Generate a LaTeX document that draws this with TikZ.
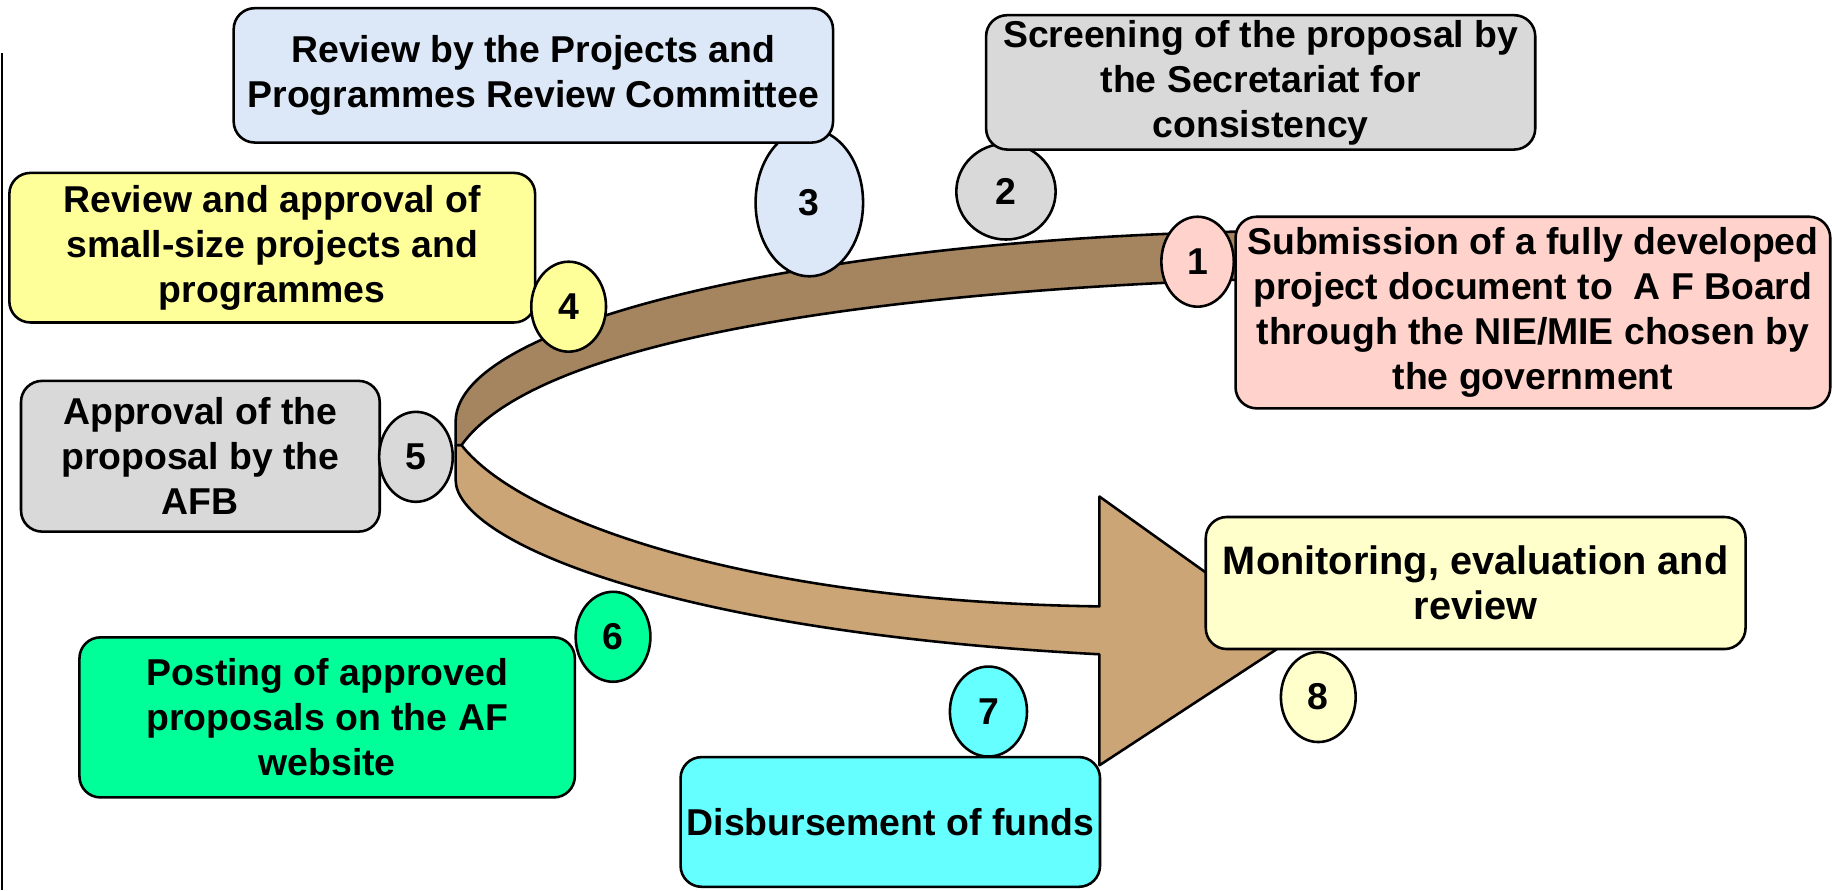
\documentclass[tikz,border=0pt]{standalone}
\usepackage{fontspec}
\setmainfont{Liberation Sans}
\usetikzlibrary{shapes.geometric}
\definecolor{cblue}{HTML}{DCE8F7}
\definecolor{cgrey}{HTML}{D9D9D9}
\definecolor{cyel}{HTML}{FFFF99}
\definecolor{cpink}{HTML}{FFD3CC}
\definecolor{cpale}{HTML}{FFFFCC}
\definecolor{cgreen}{HTML}{00FF99}
\definecolor{ccyan}{HTML}{66FFFF}
\definecolor{bdark}{HTML}{A58560}
\definecolor{blight}{HTML}{CBA575}
\tikzset{
  stepbox/.style={draw=black, line width=2.2pt, rounded corners=18pt, align=center,
    inner sep=0pt, font=\fontsize{32}{38.5}\selectfont\bfseries},
  numell/.style={ellipse, draw=black, line width=2.2pt, inner sep=0pt,
    font=\fontsize{32}{38.5}\selectfont\bfseries},
  band/.style={draw=black, line width=2.2pt, line join=round}
}
\begin{document}
\begin{tikzpicture}[x=1pt,y=-1pt]
\useasboundingbox (0,0) rectangle (1568,762);
\fill[white] (0,0) rectangle (1568,762);
\draw[line width=2pt] (1.6,45.6) -- (1.6,762);
% curved arrow
\draw[band, fill=blight] (390,381) -- (390,411) .. controls (390,460) and (560,540) .. (941,560)
  -- (941,655) -- (1109,545) -- (941,425) -- (941,519)
  .. controls (640,515) and (445,445) .. (395,381) -- cycle;
\draw[band, fill=bdark] (1070,198) .. controls (700,205) and (392,275) .. (390,360)
  -- (390,381) -- (395,381) .. controls (460,290) and (750,250) .. (1070,239) -- cycle;
% numbers behind boxes
\node[numell, fill=cgrey, minimum width=85, minimum height=82] (c2) at (861,164) {2};
\node[numell, fill=cblue, minimum width=92, minimum height=126] (c3) at (692.7,173.5) {3};
% boxes
\node[stepbox, fill=cblue, minimum width=513, minimum height=115] (b3) at (456.5,64.5)
  {Review by the Projects and\\Programmes Review Committee};
\node[stepbox, fill=cgrey, minimum width=470, minimum height=115] (b2) at (1079,70.5)
  {Screening of the proposal by\\the Secretariat for\\consistency};
\node[stepbox, fill=cyel, minimum width=450, minimum height=128] (b4) at (233,212)
  {Review and approval of\\small-size projects and\\programmes};
\node[stepbox, fill=cgrey, minimum width=307, minimum height=129] (b5) at (171.5,390.5)
  {Approval of the\\proposal by the\\AFB};
\node[stepbox, fill=cpink, minimum width=509, minimum height=164] (b1) at (1312,267.5)
  {Submission of a fully developed\\project document to \ A F Board\\through the NIE/MIE chosen by\\the government};
\node[stepbox, fill=cpale, minimum width=462, minimum height=113, font=\fontsize{34}{38.5}\selectfont\bfseries] (b8) at (1263,499)
  {Monitoring, evaluation and\\review};
\node[stepbox, fill=cgreen, minimum width=424, minimum height=137] (b6) at (280,614)
  {Posting of approved\\proposals on the AF\\website};
% numbers in front
\node[numell, fill=cpink, minimum width=62, minimum height=77] (c1) at (1025,224) {1};
\node[numell, fill=cyel, minimum width=64, minimum height=77] (c4) at (486.7,262.5) {4};
\node[numell, fill=cgrey, minimum width=63, minimum height=77] (c5) at (356,391) {5};
\node[numell, fill=cgreen, minimum width=64, minimum height=77] (c6) at (524.7,545) {6};
\node[numell, fill=ccyan, minimum width=66, minimum height=77] (c7) at (846,609) {7};
\node[numell, fill=cpale, minimum width=64, minimum height=77] (c8) at (1128.3,596.6) {8};
\node[stepbox, fill=ccyan, minimum width=359, minimum height=111] (b7) at (762,703.5)
  {Disbursement of funds};
\end{tikzpicture}
\end{document}
